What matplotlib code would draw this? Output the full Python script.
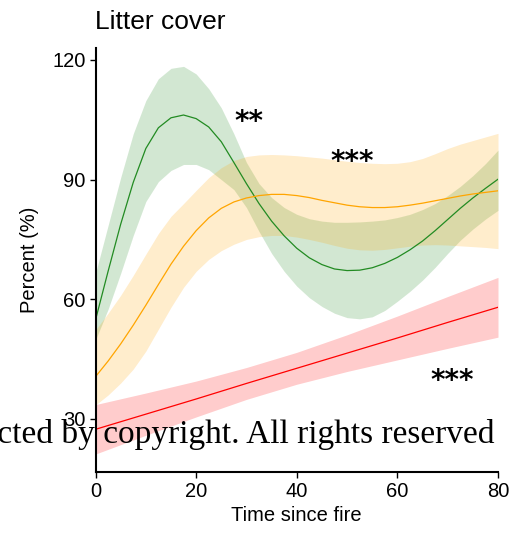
import matplotlib
matplotlib.use("Agg")
import matplotlib.pyplot as plt

# ---- data ----
x_smooth = [0, 2.5, 5, 7.5, 10, 12.5, 15, 17.5, 20, 22.5, 25, 27.5, 30, 32.5, 35, 37.5,
            40, 42.5, 45, 47.5, 50, 52.5, 55, 57.5, 60, 62.5, 65, 67.5, 70, 72.5, 75, 77.5, 80]

green_fit = [54.8, 67.0, 78.8, 89.3, 97.8, 103.0, 105.5, 106.2, 105.3, 103.2, 99.5, 94.3,
             89.0, 84.0, 79.6, 75.9, 72.8, 70.4, 68.7, 67.6, 67.2, 67.3, 67.9, 69.0, 70.5,
             72.4, 74.6, 77.2, 80.0, 82.8, 85.4, 87.8, 90.1]
green_hi = [66.5, 78.5, 90.5, 101.5, 109.8, 115.3, 117.9, 118.4, 116.5, 112.8, 108.0, 101.5,
            94.3, 89.0, 85.5, 83.0, 81.3, 80.2, 79.6, 79.3, 79.3, 79.4, 79.6, 79.9, 80.5,
            81.3, 82.5, 84.0, 86.0, 88.3, 91.0, 94.0, 97.4]
green_lo = [49.8, 57.5, 66.5, 76.0, 84.5, 89.5, 92.3, 93.8, 93.8, 92.5, 90.0, 87.5,
            83.0, 77.0, 71.5, 67.0, 63.3, 60.4, 58.2, 56.5, 55.4, 55.1, 55.6, 57.2, 59.5,
            62.0, 64.8, 68.0, 71.5, 74.8, 77.6, 80.1, 82.3]

orange_fit = [40.6, 44.5, 48.8, 53.5, 58.5, 63.7, 68.8, 73.3, 77.2, 80.4, 82.8, 84.4,
              85.4, 86.0, 86.3, 86.3, 86.0, 85.5, 84.8, 84.2, 83.6, 83.2, 83.0, 83.0, 83.2,
              83.6, 84.1, 84.7, 85.3, 85.9, 86.4, 86.8, 87.2]
orange_hi = [52.3, 56.5, 61.0, 66.0, 71.3, 76.5, 80.8, 84.0, 87.3, 90.5, 93.0, 94.8,
             95.8, 96.2, 96.3, 96.2, 96.0, 95.7, 95.4, 95.0, 94.6, 94.3, 94.1, 94.0, 94.1,
             94.5, 95.3, 96.5, 97.8, 98.9, 99.8, 100.7, 101.6]
orange_lo = [33.5, 36.0, 39.0, 42.5, 47.0, 52.5, 58.0, 63.0, 67.0, 70.0, 72.2, 73.8,
             75.0, 75.7, 76.0, 76.0, 75.6, 75.0, 74.3, 73.5, 72.8, 72.4, 72.3, 72.5, 72.9,
             73.3, 73.6, 73.7, 73.6, 73.4, 73.2, 73.0, 72.7]

x_red = [0, 10, 20, 30, 40, 50, 60, 70, 80]
red_fit = [27.4, 31.2, 35.0, 38.9, 42.7, 46.5, 50.3, 54.2, 58.0]
red_hi = [33.6, 36.5, 39.5, 42.9, 46.7, 51.1, 55.8, 60.7, 65.5]
red_lo = [21.2, 25.9, 30.5, 34.9, 38.7, 41.9, 44.8, 47.7, 50.5]

star_labels = ["**", "***", "***"]
star_x = [30.5, 51.0, 70.9]
star_y = [104.4, 94.4, 39.4]

x_ticks = [0, 20, 40, 60, 80]
y_ticks = [30, 60, 90, 120]

title = "Litter cover"
xlabel = "Time since fire"
ylabel = "Percent (%)"
watermark = "Protected by copyright. All rights reserved"

# ---- figure ----
plt.rcParams['font.family'] = ['Liberation Sans', 'DejaVu Sans']
W, H = 518, 538
fig = plt.figure(figsize=(W / 100, H / 100), dpi=100)
ax = fig.add_axes([95.5 / W, 1 - 472 / H, (498 - 95.5) / W, (472 - 48) / H])

ax.fill_between(x_smooth, green_lo, green_hi, color="forestgreen", alpha=0.2, lw=0)
ax.fill_between(x_smooth, orange_lo, orange_hi, color="orange", alpha=0.2, lw=0)
ax.fill_between(x_red, red_lo, red_hi, color="red", alpha=0.2, lw=0)
ax.plot(x_smooth, green_fit, color="forestgreen", lw=0.9)
ax.plot(x_smooth, orange_fit, color="orange", lw=0.9)
ax.plot(x_red, red_fit, color="red", lw=0.9)

for lab, sx, sy in zip(star_labels, star_x, star_y):
    ax.text(sx, sy, lab, ha="center", va="center", fontsize=20, fontweight="bold",
            family=["DejaVu Sans"], color="black")

ax.set_xlim(0, 80)
ax.set_ylim(16.7, 123.0)
ax.set_xticks(x_ticks)
ax.set_yticks(y_ticks)
ax.tick_params(axis="both", labelsize=14.5, length=4, width=1.0, color="black",
               pad=3)
for s in ["top", "right"]:
    ax.spines[s].set_visible(False)
for s in ["left", "bottom"]:
    ax.spines[s].set_linewidth(1.5)
    ax.spines[s].set_color("black")

ax.set_xlabel(xlabel, fontsize=14.5, labelpad=4)
ax.set_ylabel(ylabel, fontsize=14.5, labelpad=10)

fig.text(95 / W, 1 - 22 / H, title, fontsize=19, ha="left", va="center")

fig.text(494.5 / W, 1 - 443.5 / H, watermark, fontsize=24, ha="right",
         va="baseline", family=["Liberation Serif", "DejaVu Serif"], color="black")

fig.savefig("out.png", dpi=100)
